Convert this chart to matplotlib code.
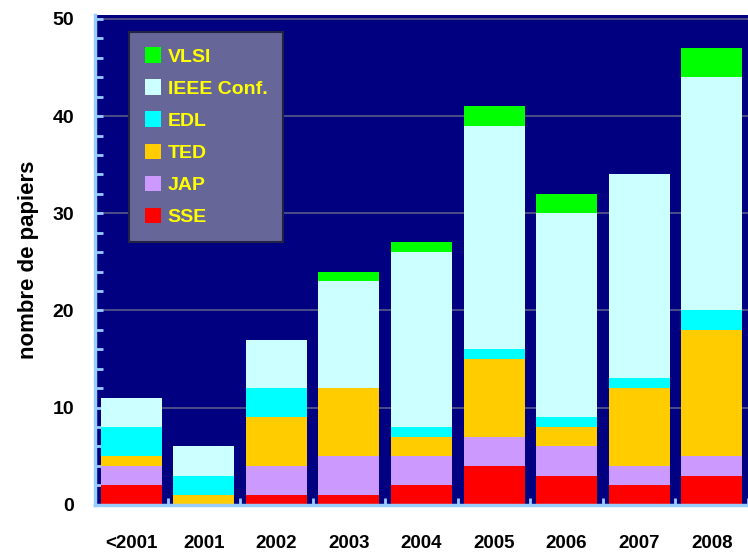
import numpy as np
import matplotlib.pyplot as plt
from matplotlib.ticker import MultipleLocator

plt.rcParams['font.family'] = ['Liberation Sans', 'DejaVu Sans']

years = ['<2001', '2001', '2002', '2003', '2004', '2005', '2006', '2007', '2008']
sse = [2, 0, 1, 1, 2, 4, 3, 2, 3]
jap = [2, 0, 3, 4, 3, 3, 3, 2, 2]
ted = [1, 1, 5, 7, 2, 8, 2, 8, 13]
edl = [3, 2, 3, 0, 1, 1, 1, 1, 2]
ieee = [3, 3, 5, 11, 18, 23, 21, 21, 24]
vlsi = [0, 0, 0, 1, 1, 2, 2, 0, 3]

series = [('SSE', sse, '#ff0000'), ('JAP', jap, '#cc99ff'), ('TED', ted, '#ffcc00'),
          ('EDL', edl, '#00ffff'), ('IEEE Conf.', ieee, '#ccffff'), ('VLSI', vlsi, '#00ff00')]

fig = plt.figure(figsize=(7.48, 5.59), dpi=100)
ax = fig.add_axes([0.127, 0.097, 0.873, 0.876])
ax.set_facecolor('#000080')

x = np.arange(len(years))
bottom = np.zeros(len(years))
handles = []
for name, vals, col in series:
    b = ax.bar(x, vals, 0.84, bottom=bottom, color=col, zorder=2, label=name)
    bottom += np.array(vals)
    handles.append(b)

ax.set_xlim(-0.49, 8.4)
ax.set_ylim(0, 50.4)
ax.yaxis.set_major_locator(MultipleLocator(10))
ax.yaxis.set_minor_locator(MultipleLocator(2))
ax.grid(axis='y', which='major', color='#5a5a8a', linewidth=1.2, zorder=1)
ax.set_xticks(x)
ax.set_xticks(np.arange(len(years) + 1) - 0.5, minor=True)
ax.set_xticklabels(years, fontsize=13.5, fontweight='bold')
for lab in ax.get_yticklabels():
    lab.set_fontweight('bold')
ax.tick_params(axis='y', which='both', direction='in', color='#99ccff', width=2,
               labelsize=14, pad=15, length=6)
ax.tick_params(axis='x', which='both', direction='in', color='#99ccff', width=2,
               length=5, pad=22)
for s in ['left', 'bottom']:
    ax.spines[s].set_color('#99ccff')
    ax.spines[s].set_linewidth(2.5)
for s in ['top', 'right']:
    ax.spines[s].set_visible(False)

ax.set_ylabel('nombre de papiers', fontsize=16, fontweight='bold', labelpad=10)

leg = ax.legend(handles[::-1], [s[0] for s in series][::-1], loc='upper left',
                bbox_to_anchor=(0.052, 0.966), frameon=True, fancybox=False,
                facecolor='#666699', edgecolor='#222244', framealpha=1,
                prop={'weight': 'bold', 'size': 14}, labelspacing=0.7,
                handlelength=0.85, handleheight=0.85, handletextpad=0.35,
                borderpad=0.8, borderaxespad=0)
leg.get_frame().set_linewidth(1.5)
for t in leg.get_texts():
    t.set_color('#ffff00')

fig.savefig('out.png', dpi=100)
